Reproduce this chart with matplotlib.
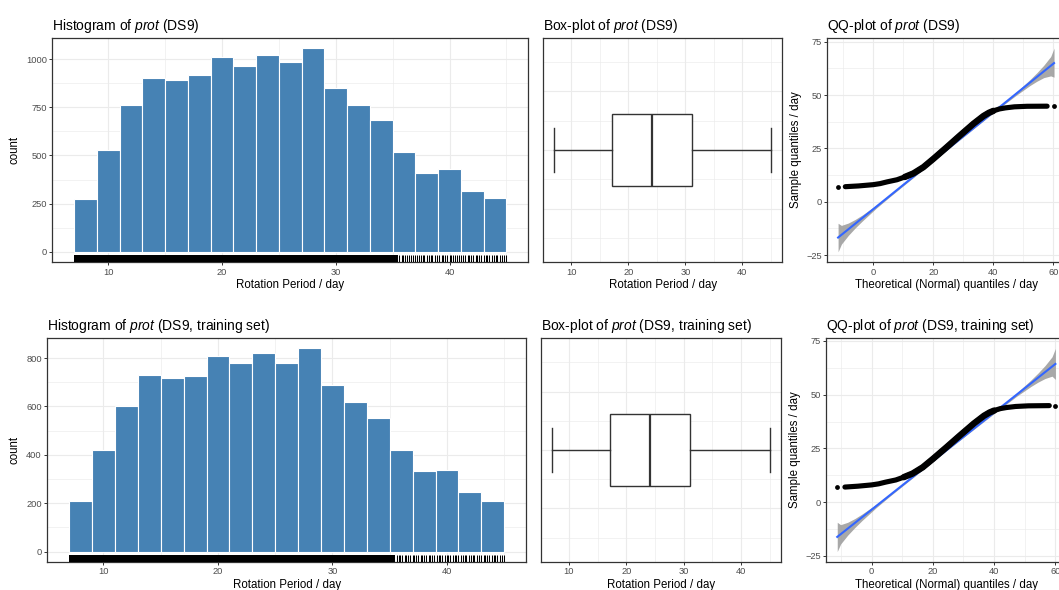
import numpy as np
import matplotlib
matplotlib.use("Agg")
import matplotlib.pyplot as plt

plt.rcParams['font.family'] = ['Liberation Sans', 'DejaVu Sans']
plt.rcParams['mathtext.fontset'] = 'custom'
plt.rcParams['mathtext.rm'] = 'Liberation Sans'
plt.rcParams['mathtext.it'] = 'Liberation Sans:italic'

# ---- data ----
# histogram, bins of 2 days from 7 to 45
bin_left = [7, 9, 11, 13, 15, 17, 19, 21, 23, 25, 27, 29, 31, 33, 35, 37, 39, 41, 43]
bin_width = 2
counts_all = [272, 526, 762, 901, 894, 918, 1010, 965, 1024, 986, 1057,
              849, 762, 686, 517, 408, 431, 318, 278]
counts_train = [207, 421, 603, 732, 717, 726, 810, 779, 822, 779, 840,
                690, 617, 553, 419, 335, 338, 246, 210]

# rug: solid run of values, then single ticks where values thin out
rug_solid = (7.0, 35.5)
rug_ticks = [35.6, 35.8, 35.9, 36.1, 36.3, 36.4, 36.6, 36.8, 37.0, 37.1, 37.3,
             37.5, 37.7, 37.8, 38.0, 38.2, 38.4, 38.5, 38.7, 38.9, 39.1, 39.3,
             39.4, 39.6, 39.8, 40.0, 40.1, 40.3, 40.5, 40.7, 40.8, 41.0, 41.2,
             41.4, 41.6, 41.7, 41.9, 42.1, 42.3, 42.4, 42.6, 42.8, 43.0, 43.2,
             43.3, 43.5, 43.7, 43.9, 44.1, 44.2, 44.4, 44.6, 44.8, 44.95]

# box-plot five numbers
box_all = dict(whislo=7.0, q1=17.15, med=24.1, q3=31.15, whishi=45.0)
box_train = dict(whislo=7.0, q1=17.1, med=24.05, q3=31.1, whishi=44.97)

# QQ-plot: theoretical vs sample quantiles (trace of the point cloud)
qq_theo_all = [-9.3, -4.9, 0.0, 2.3, 4.6, 7.9, 10.5, 13.4, 16.7, 20.1, 24.5,
               28.9, 33.4, 36.7, 38.5, 40.0, 42.0, 44.0, 47.0, 51.2, 57.9]
qq_samp_all = [7.05, 7.4, 8.0, 8.5, 9.3, 10.3, 11.6, 13.3, 16.2, 20.2, 25.6,
               31.1, 36.6, 40.2, 41.7, 42.6, 43.5, 44.0, 44.5, 44.75, 44.8]
qq_ends_all = ([-11.7, 60.2], [7.05, 44.8])
fit_x_all = [-11.7, 60.2]
fit_y_all = [-16.8, 65.0]
band_x_all = [-11.7, -10.6, -8.3, -6.0, -3.6, 1.0, 5.6, 24.2, 42.9, 47.5,
              52.2, 54.5, 56.8, 59.1, 60.2]
band_lo_all = [-23.5, -19.9, -15.8, -12.3, -9.0, -3.05, 2.4, 23.8, 44.9, 49.8,
               54.5, 56.5, 58.2, 59.0, 58.4]
band_hi_all = [-10.1, -11.1, -10.0, -8.3, -6.2, -1.65, 3.3, 24.2, 45.8, 51.2,
               57.3, 60.5, 64.0, 68.1, 72.0]

qq_theo_train = [-8.7, -4.5, 0.0, 2.3, 4.6, 7.9, 10.5, 13.4, 16.7, 20.1, 24.5,
                 28.9, 33.4, 36.7, 38.5, 40.0, 42.0, 44.0, 47.0, 51.2, 58.0]
qq_samp_train = [7.0, 7.4, 8.0, 8.5, 9.3, 10.3, 11.6, 13.3, 16.2, 20.2, 25.6,
                 31.1, 36.6, 40.2, 41.7, 42.6, 43.5, 44.0, 44.5, 44.8, 44.9]
qq_ends_train = ([-11.2, 60.0], [7.0, 44.9])
fit_x_train = [-11.2, 60.0]
fit_y_train = [-16.2, 64.3]
band_x_train = [-11.2, -10.1, -7.8, -5.5, -3.1, 1.5, 6.1, 24.4, 42.7, 47.3,
                52.0, 54.3, 56.6, 58.9, 60.0]
band_lo_train = [-23.0, -19.5, -15.4, -11.9, -8.55, -2.6, 2.9, 23.85, 44.2, 49.2,
                 53.8, 55.8, 57.5, 58.6, 57.1]
band_hi_train = [-9.4, -10.5, -9.4, -7.7, -5.55, -1.1, 3.9, 24.25, 45.2, 50.7,
                 56.8, 60.0, 63.5, 67.6, 71.5]

# ---- style ----
TICK_COL = '#4d4d4d'
LINE_COL = '#333333'
GRID_MAJ = '#ebebeb'
TITLE_FS = 10
LABEL_FS = 8.3
TICK_FS = 6.7


def expand(lo, hi, f=0.05):
    d = (hi - lo) * f
    return lo - d, hi + d


def style(ax):
    for s in ax.spines.values():
        s.set_color(LINE_COL)
        s.set_linewidth(0.9)
    ax.tick_params(which='major', colors=LINE_COL, labelcolor=TICK_COL,
                   labelsize=TICK_FS, length=2.5, width=0.7, pad=1.5)
    ax.tick_params(which='minor', length=0)
    ax.grid(which='major', color=GRID_MAJ, lw=0.8, zorder=0)
    ax.grid(which='minor', color=GRID_MAJ, lw=0.45, zorder=0)
    ax.set_axisbelow(True)


def hist_panel(ax, counts, title, ymaj, ymin):
    ax.bar(bin_left, counts, width=bin_width, align='edge', color='#4682B4',
           edgecolor='white', lw=0.8, zorder=2)
    tr = ax.get_xaxis_transform()
    ax.axvspan(rug_solid[0], rug_solid[1], ymin=0, ymax=0.03,
               color='black', lw=0, zorder=3)
    ax.vlines(rug_ticks, 0, 0.03, transform=tr, color='black', lw=0.75, zorder=3)
    ax.set_xlim(expand(bin_left[0], bin_left[-1] + bin_width))
    ax.set_ylim(expand(0, max(counts)))
    ax.set_xticks([10, 20, 30, 40])
    ax.set_xticks([15, 25, 35, 45], minor=True)
    ax.set_yticks(ymaj)
    ax.set_yticks(ymin, minor=True)
    style(ax)
    ax.set_title(title, loc='left', fontsize=TITLE_FS, pad=6)
    ax.set_xlabel('Rotation Period / day', fontsize=LABEL_FS, labelpad=2)
    ax.set_ylabel('count', fontsize=LABEL_FS, labelpad=4)


def box_panel(ax, stats, title):
    ax.bxp([dict(stats, fliers=[])], positions=[0], widths=0.248,
           capwidths=0.15, orientation='horizontal', patch_artist=True,
           manage_ticks=False, showfliers=False,
           boxprops=dict(facecolor='white', edgecolor=LINE_COL, lw=1.0),
           whiskerprops=dict(color=LINE_COL, lw=1.0),
           capprops=dict(color=LINE_COL, lw=1.0),
           medianprops=dict(color=LINE_COL, lw=1.6), zorder=2)
    ax.set_xlim(expand(bin_left[0], bin_left[-1] + bin_width))
    ax.set_ylim(-0.3825, 0.3825)
    ax.set_xticks([10, 20, 30, 40])
    ax.set_xticks([15, 25, 35, 45], minor=True)
    ax.set_yticks([-0.2, 0, 0.2])
    ax.set_yticks([-0.3, -0.1, 0.1, 0.3], minor=True)
    style(ax)
    ax.tick_params(axis='y', length=0, labelleft=False)
    ax.set_title(title, loc='left', fontsize=TITLE_FS, pad=6)
    ax.set_xlabel('Rotation Period / day', fontsize=LABEL_FS, labelpad=2)


def qq_panel(ax, theo, samp, ends, fx, fy, bx, blo, bhi, title):
    theo = np.asarray(theo)
    samp = np.asarray(samp)
    ax.fill_between(bx, blo, bhi, color='#999999', alpha=0.85, lw=0, zorder=2)
    ax.plot(fx, fy, color='#3366FF', lw=1.5, zorder=3)
    # the point cloud reads as a thick trace, a little thicker where it is
    # steep; it sits on top of the fitted line
    ax.plot(theo, samp, color='black', lw=3.7, solid_capstyle='round',
            solid_joinstyle='round', zorder=4)
    mid = (theo > 10) & (theo < 41)
    ax.plot(theo[mid], samp[mid], color='black', lw=4.6, solid_capstyle='round',
            solid_joinstyle='round', zorder=4)
    ax.scatter(ends[0], ends[1], s=12, color='black', lw=0, zorder=4)
    ax.set_xlim(expand(ends[0][0], ends[0][1]))
    ax.set_ylim(expand(min(blo), max(bhi)))
    ax.set_xticks([0, 20, 40, 60])
    ax.set_xticks([-10, 10, 30, 50], minor=True)
    ax.set_yticks([-25, 0, 25, 50, 75])
    ax.set_yticks([-12.5, 12.5, 37.5, 62.5], minor=True)
    style(ax)
    ax.set_title(title, loc='left', fontsize=TITLE_FS, pad=6)
    ax.set_xlabel('Theoretical (Normal) quantiles / day', fontsize=LABEL_FS, labelpad=2)
    ax.set_ylabel('Sample quantiles / day', fontsize=LABEL_FS, labelpad=3)


fig = plt.figure(figsize=(10.59, 5.9), dpi=100)

ax1 = fig.add_axes([0.0495, 0.5559, 0.4491, 0.3797])
ax2 = fig.add_axes([0.5132, 0.5559, 0.2249, 0.3797])
ax3 = fig.add_axes([0.7812, 0.5559, 0.2243, 0.3797])
ax4 = fig.add_axes([0.0447, 0.0480, 0.4520, 0.3786])
ax5 = fig.add_axes([0.5107, 0.0480, 0.2265, 0.3786])
ax6 = fig.add_axes([0.7803, 0.0480, 0.2266, 0.3786])

hist_panel(ax1, counts_all, r'Histogram of $\mathit{prot}$ (DS9)',
           [0, 250, 500, 750, 1000], [125, 375, 625, 875])
box_panel(ax2, box_all, r'Box-plot of $\mathit{prot}$ (DS9)')
qq_panel(ax3, qq_theo_all, qq_samp_all, qq_ends_all, fit_x_all, fit_y_all,
         band_x_all, band_lo_all, band_hi_all, r'QQ-plot of $\mathit{prot}$ (DS9)')

hist_panel(ax4, counts_train, r'Histogram of $\mathit{prot}$ (DS9, training set)',
           [0, 200, 400, 600, 800], [100, 300, 500, 700])
box_panel(ax5, box_train, r'Box-plot of $\mathit{prot}$ (DS9, training set)')
qq_panel(ax6, qq_theo_train, qq_samp_train, qq_ends_train, fit_x_train, fit_y_train,
         band_x_train, band_lo_train, band_hi_train,
         r'QQ-plot of $\mathit{prot}$ (DS9, training set)')

fig.savefig('out.png', dpi=100)
